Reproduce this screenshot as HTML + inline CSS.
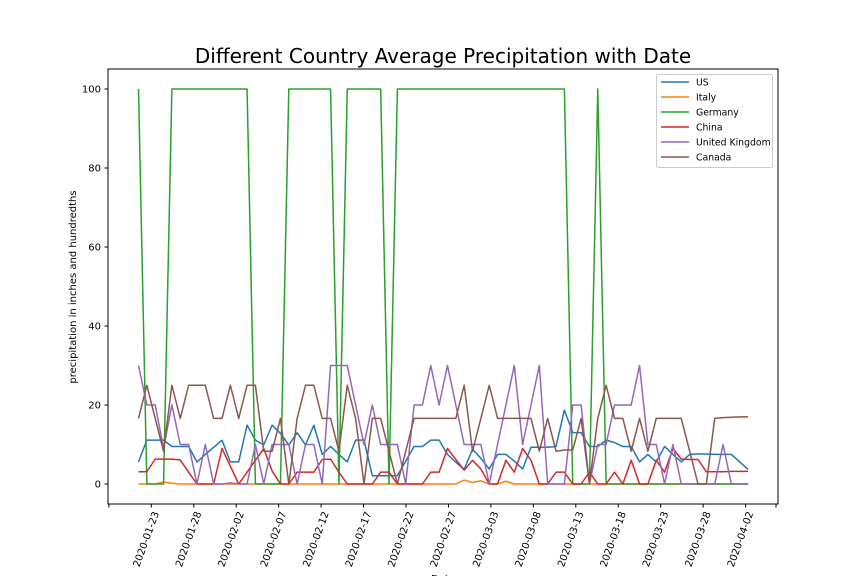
<!DOCTYPE html>
<html><head><meta charset="utf-8"><style>
body{margin:0;background:#fff;}
svg{display:block;font-family:"DejaVu Sans","Liberation Sans",sans-serif;}
</style></head><body>
<svg id="chart" width="864" height="576" viewBox="0 0 864 576" xmlns="http://www.w3.org/2000/svg">
<rect width="864" height="576" fill="#fff"/>
<text x="443" y="63" font-size="20" text-anchor="middle">Different Country Average Precipitation with Date</text>
<g id="plot"></g>
<rect x="108" y="69" width="670" height="435" fill="none" stroke="#000" stroke-width="1"/>
<text transform="translate(76,287) rotate(-90)" font-size="10" text-anchor="middle">precipitation in inches and hundredths</text>
<text x="443" y="582" font-size="10" text-anchor="middle">Date</text>
</svg>
<script>
const seriesNames = ["US","Italy","Germany","China","United Kingdom","Canada"];
const seriesColors = ["#1f77b4","#ff7f0e","#2ca02c","#d62728","#9467bd","#8c564b"];
const usValues = [5.6,11.1,11.1,11.1,9.5,9.5,9.5,5.6,7.5,9.3,11.1,5.6,5.6,
 14.9,11.1,9.9,14.9,12.8,9.9,13,9.9,14.9,7.5,9.5,7.5,5.6,
 11.1,11.1,2.1,2.1,2.1,2.1,5.8,9.5,9.5,11.1,11.1,7.5,
 5.5,3.7,8.8,6.5,3.8,7.5,7.5,5.8,3.8,9.3,9.3,9.3,
 9.5,18.7,13,13,9.5,9.5,11.1,10.5,9.5,9.5,5.6,7.5,5.6,9.5,7.5,5.6,7.5,7.6,7.6,7.5,7.5,7.5,5.6,3.7];
const italyValues = [0,0,0,0.5,0.2,0,0,0,0,0,0,0,0,
 0,0,0,0,0,0,0,0,0,0,0,0,0,
 0,0,0,0,0,0,0,0,0,0,0,0,
 0,1.0,0.4,0.8,0,0,0.7,0,0,0,0,0,
 0,0,0,0,0,0,0,0,0,0,0,0,0,0,0,0,0,0,0,0,0,0,0,0];
const germanyValues = [100,0,0,0,100,100,100,100,100,100,100,100,100,
 100,0,0,0,0,100,100,100,100,100,100,0,100,
 100,100,100,100,0,100,100,100,100,100,100,100,
 100,100,100,100,100,100,100,100,100,100,100,100,
 100,100,0,0,0,100,0,0,0,0,0,0,0,0,0,0,0,0,0,0,0,0,0,0];
const chinaValues = [3.1,3.1,6.3,6.3,6.3,6.1,3,0,0,0,9,4.5,0,
 3,6,9,3.3,0,0,3,3,3,6.2,6.3,3,0,
 0,0,0,3,3,0,0,0,0,3,3,9,
 6.2,3.5,6,3.8,0,0,6,3,9,6,0,0,
 3,3,0,0,3,0,0,3,0,6,0,0,6,3,9,6.3,6.2,6.2,3.1,3.1,3.1,3.2,3.2,3.2];
const ukValues = [30,20,20,9,20,10,10,0,10,0,0,0.3,0,
 0,10,0,10,10,10,0,10,10,0,30,30,30,
 20,10,20,10,10,10,0,20,20,30,20,30,
 20,10,10,10,0,10,20,30,10,20,30,0,
 0,0,20,20,0,10,10,20,20,20,30,10,10,0,10,0,0,0,0,0,10,0,0,0];
const canadaValues = [16.6,25,16.6,8.3,25,16.6,25,25,25,16.6,16.6,25,16.6,
 25,25,8.3,8.3,16.6,0,16.6,25,25,16.6,16.6,8.3,25,
 16.6,0,16.6,16.6,8.3,0,8.3,16.6,16.6,16.6,16.6,16.6,
 16.6,25,8.3,16.6,25,16.6,16.6,16.6,16.6,16.6,8.3,16.6,
 8.3,8.6,8.6,16.6,0,16.6,25,16.6,16.6,8.3,16.6,8.3,16.6,16.6,16.6,16.6,8.3,0,0,16.6,16.8,16.9,17,17];
const xTickLabels = ["2020-01-23","2020-01-28","2020-02-02","2020-02-07","2020-02-12","2020-02-17","2020-02-22","2020-02-27","2020-03-03","2020-03-08","2020-03-13","2020-03-18","2020-03-23","2020-03-28","2020-04-02"];
const yTicks = [0,20,40,60,80,100];

const NS = "http://www.w3.org/2000/svg";
const plot = document.getElementById("plot");
const nPts = usValues.length;
function xIdx(i){ return 138.5 + i * (609.6 / (nPts - 1)); }
function xTick(k){ return 151.3 + k * 42.45; }
function yVal(v){ return 484 - v * 3.95; }

function mk(tag, attrs, parent){
  const e = document.createElementNS(NS, tag);
  for (const k in attrs) e.setAttribute(k, attrs[k]);
  (parent || plot).appendChild(e);
  return e;
}

yTicks.forEach(v => {
  const y = yVal(v);
  const t = mk("line", {x1:104.5, x2:108, y1:y, y2:y, stroke:"#000", "stroke-width":1});
  
  
  const l = mk("text", {x:101, y:y+3.5, "font-size":10, "text-anchor":"end"});
  
  
  l.textContent = v;
});

// unlabeled edge ticks
[108.9, 776].forEach(x => {
  const t = mk("line", {x1:x, x2:x, y1:504, y2:507.5, stroke:"#000", "stroke-width":1});
  
  
});

xTickLabels.forEach((lab, k) => {
  const x = xTick(k);
  const t = mk("line", {x1:x, x2:x, y1:504, y2:507.5, stroke:"#000", "stroke-width":1});
  
  
  const l = mk("text", {transform:`translate(${x+5},512) rotate(-70)`, "font-size":10, "text-anchor":"end", "dominant-baseline":"middle"});
  
  
  l.textContent = lab;
});

const allSeries = [usValues, italyValues, germanyValues, chinaValues, ukValues, canadaValues];
allSeries.forEach((vals, s) => {
  const pts = vals.map((v, i) => xIdx(i).toFixed(2) + "," + yVal(v).toFixed(2)).join(" ");
  const p = mk("polyline", {points:pts, fill:"none", stroke:seriesColors[s], "stroke-width":1.5, "stroke-linejoin":"round"});
  
  
});

const svg = document.getElementById("chart");
const lg = mk("g", {}, svg);


const box = mk("rect", {x:656.5, y:74.5, width:116, height:93, rx:2, fill:"#fff", "fill-opacity":0.8, stroke:"#ccc", "stroke-width":1}, lg);


seriesNames.forEach((n, s) => {
  const y = 82 + s * 15;
  const ln = mk("line", {x1:661, x2:689, y1:y, y2:y, stroke:seriesColors[s], "stroke-width":1.5}, lg);
  
  
  const tx = mk("text", {x:696, y:y+3.5, "font-size":9.3}, lg);
  
  
  tx.textContent = n;
});
</script>
</body></html>
